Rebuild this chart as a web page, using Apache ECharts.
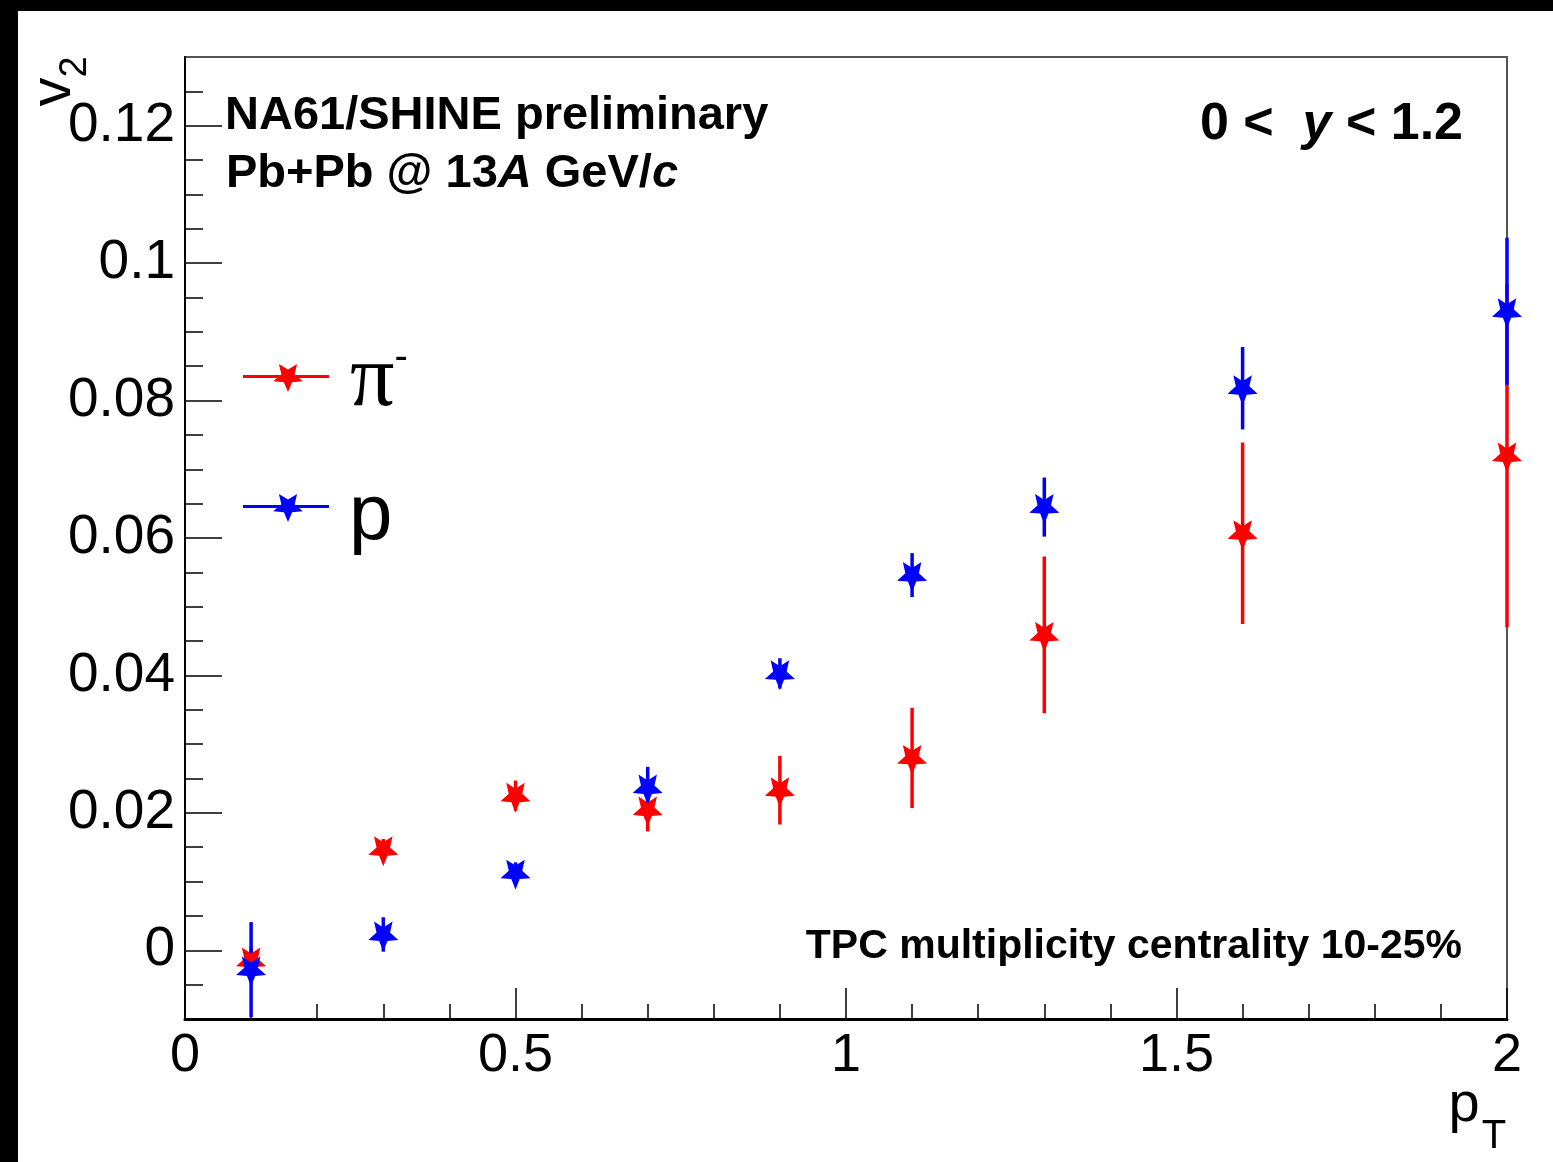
<!DOCTYPE html>
<html>
<head>
<meta charset="utf-8">
<script src="https://cdn.jsdelivr.net/npm/echarts@6/dist/echarts.min.js"></script>
<style>
html,body{margin:0;padding:0;background:#fff;}
#c{width:1553px;height:1162px;}
</style>
</head>
<body>
<div id="c"></div>
<script>
// ---- data ----
const pt = [0.1, 0.3, 0.5, 0.7, 0.9, 1.1, 1.3, 1.6, 2.0];
const piV2 = [-0.0015, 0.0147, 0.0225, 0.0205, 0.0233, 0.0280, 0.0459, 0.0607, 0.0720];
const piErr = [0.0020, 0.0015, 0.0022, 0.0032, 0.0050, 0.0073, 0.0114, 0.0132, 0.0250];
const pV2 = [-0.0028, 0.0023, 0.0113, 0.0237, 0.0403, 0.0546, 0.0645, 0.0818, 0.0930];
const pErr = [0.0069, 0.0025, 0.0015, 0.0030, 0.0022, 0.0032, 0.0043, 0.0060, 0.0107];
const yMajorTicks = [0, 0.02, 0.04, 0.06, 0.08, 0.1, 0.12];
const yMinorTicks = [-0.005, 0.005, 0.01, 0.015, 0.025, 0.03, 0.035, 0.045, 0.05, 0.055,
  0.065, 0.07, 0.075, 0.085, 0.09, 0.095, 0.105, 0.11, 0.115, 0.125];
const xTickLabels = ['0', '0.5', '1', '1.5', '2'];

const RED = '#ff0000', BLUE = '#0000ff';
const starPath = 'path://M0,50L13.2,18.2L47.6,15.5L21.4,-7L29.4,-40.5L0,-22.5L-29.4,-40.5L-21.4,-7L-47.6,15.5L-13.2,18.2Z';
// horizontal line (same winding as the star) + star
const legendIcon = 'path://M0,11L0,14L86,14L86,11Z M45,28L49.1,18.14L59.74,17.29L51.63,10.34L54.11,0L45,5.53L35.89,0L38.37,10.34L30.26,17.29L40.9,18.14Z';

function errData(xs, ys, es) { return xs.map((x, i) => [x, ys[i], es[i]]); }
function ptsData(xs, ys) { return xs.map((x, i) => [x, ys[i]]); }

function errRender(color) {
  return function (params, api) {
    const x = api.value(0), y = api.value(1), e = api.value(2);
    const t = api.coord([x, y + e]);
    const b = api.coord([x, y - e]);
    const cs = params.coordSys;
    const y1 = Math.max(cs.y, Math.min(cs.y + cs.height, t[1]));
    const y2 = Math.max(cs.y, Math.min(cs.y + cs.height, b[1]));
    return {
      type: 'line',
      shape: { x1: t[0], y1: y1, x2: b[0], y2: y2 },
      style: { stroke: color, lineWidth: 3.5 }
    };
  };
}

const FONT = '"Liberation Sans", Arial, Helvetica, sans-serif';
const chart = echarts.init(document.getElementById('c'), null, { renderer: 'canvas' });

const option = {
  animation: false,
  backgroundColor: '#fff',
  grid: { left: 185, right: 46, top: 57, bottom: 143, show: true, borderColor: '#555', borderWidth: 2, backgroundColor: 'transparent' },
  xAxis: {
    type: 'value', min: 0, max: 2, interval: 0.5,
    axisLine: { show: true, onZero: false, lineStyle: { color: '#000', width: 3 } },
    axisTick: { show: true, inside: true, length: 31, lineStyle: { color: '#000', width: 1.5 } },
    minorTick: { show: true, splitNumber: 5, length: 15, lineStyle: { color: '#000', width: 1.5 } },
    axisLabel: { fontSize: 54, fontFamily: FONT, color: '#000', margin: 10,
      formatter: function (v) { return xTickLabels[Math.round(v / 0.5)]; } },
    splitLine: { show: false }
  },
  yAxis: [{
    type: 'value', min: -0.01, max: 0.13, position: 'left',
    axisLine: { show: true, onZero: false, lineStyle: { color: '#000', width: 2 } },
    axisTick: { show: true, inside: true, length: 37, customValues: yMajorTicks, lineStyle: { color: '#000', width: 1.5 } },
    axisLabel: { customValues: yMajorTicks, fontSize: 55, fontFamily: FONT, color: '#000', margin: 10,
      formatter: function (v) { return String(+(+v).toFixed(3)); } },
    splitLine: { show: false }
  }, {
    type: 'value', min: -0.01, max: 0.13, position: 'left', offset: 0,
    axisLine: { show: false },
    axisTick: { show: true, inside: true, length: 18, customValues: yMinorTicks, lineStyle: { color: '#000', width: 1.5 } },
    axisLabel: { show: false },
    splitLine: { show: false }
  }],
  legend: [{
    data: [{ name: 'pi', icon: legendIcon }],
    left: 243, top: 330, padding: 0, itemWidth: 86, itemHeight: 28, selectedMode: false,
    formatter: function () { return '{g|π}{s|-}'; },
    textStyle: { padding: [0, 0, 0, 16], rich: {
      g: { fontFamily: '"Liberation Serif", serif', fontSize: 88, lineHeight: 80, padding: [8, 0, 0, 0], color: '#000' },
      s: { fontFamily: FONT, fontSize: 40, lineHeight: 26, verticalAlign: 'top', color: '#000' }
    } }
  }, {
    data: [{ name: 'p', icon: legendIcon }],
    left: 243, top: 460, padding: 0, itemWidth: 86, itemHeight: 28, selectedMode: false,
    formatter: function () { return '{g|p}'; },
    textStyle: { padding: [0, 0, 0, 15], rich: {
      g: { fontFamily: FONT, fontSize: 78, lineHeight: 80, padding: [18, 0, 0, 0], color: '#000' }
    } }
  }],
  series: [
    { name: 'pi-err', type: 'custom', renderItem: errRender(RED), data: errData(pt, piV2, piErr), encode: { x: 0, y: 1 }, z: 3 },
    { name: 'pi', type: 'scatter', data: ptsData(pt, piV2), symbol: starPath, symbolSize: [30, 30], symbolOffset: [0, 2],
      itemStyle: { color: RED, opacity: 1 }, clip: false, z: 3 },
    { name: 'p-err', type: 'custom', renderItem: errRender(BLUE), data: errData(pt, pV2, pErr), encode: { x: 0, y: 1 }, z: 3 },
    { name: 'p', type: 'scatter', data: ptsData(pt, pV2), symbol: starPath, symbolSize: [30, 30], symbolOffset: [0, 2],
      itemStyle: { color: BLUE, opacity: 1 }, clip: false, z: 3 }
  ],
  graphic: [
    { type: 'rect', left: 0, top: 0, shape: { width: 1553, height: 11 }, style: { fill: '#000' }, z: 100 },
    { type: 'rect', left: 0, top: 0, shape: { width: 18, height: 1162 }, style: { fill: '#000' }, z: 100 },
    { type: 'text', x: 225, y: 116, style: { text: 'NA61/SHINE preliminary', fontFamily: FONT, fontWeight: 'bold', fontSize: 47, fill: '#000', verticalAlign: 'middle', align: 'left' } },
    { type: 'text', x: 226, y: 174, style: { text: '{b|Pb+Pb @ 13}{i|A}{b| GeV/}{i|c}', fill: '#000', verticalAlign: 'middle', align: 'left',
      rich: { b: { fontFamily: FONT, fontWeight: 'bold', fontSize: 47 }, i: { fontFamily: FONT, fontWeight: 'bold', fontStyle: 'italic', fontSize: 47 } } } },
    { type: 'text', x: 1463, y: 125, style: { text: '{b|0 <  }{i|y}{b| < 1.2}', fill: '#000', verticalAlign: 'middle', align: 'right',
      rich: { b: { fontFamily: FONT, fontWeight: 'bold', fontSize: 52 }, i: { fontFamily: FONT, fontWeight: 'bold', fontStyle: 'italic', fontSize: 52 } } } },
    { type: 'text', x: 1462, y: 947, style: { text: 'TPC multiplicity centrality 10-25%', fontFamily: FONT, fontWeight: 'bold', fontSize: 41, fill: '#000', verticalAlign: 'middle', align: 'right' } },
    { type: 'text', x: 54, y: 92, rotation: Math.PI / 2, style: { text: 'v', fontFamily: FONT, fontSize: 58, fill: '#000', verticalAlign: 'middle', align: 'center' } },
    { type: 'text', x: 76, y: 67, rotation: Math.PI / 2, style: { text: '2', fontFamily: FONT, fontSize: 38, fill: '#000', verticalAlign: 'middle', align: 'center' } },
    { type: 'text', x: 1464, y: 1106, style: { text: 'p', fontFamily: FONT, fontSize: 56, fill: '#000', verticalAlign: 'middle', align: 'center' } },
    { type: 'text', x: 1494, y: 1137, style: { text: 'T', fontFamily: FONT, fontSize: 40, fill: '#000', verticalAlign: 'middle', align: 'center' } }
  ]
};
chart.setOption(option);
</script>
</body>
</html>
